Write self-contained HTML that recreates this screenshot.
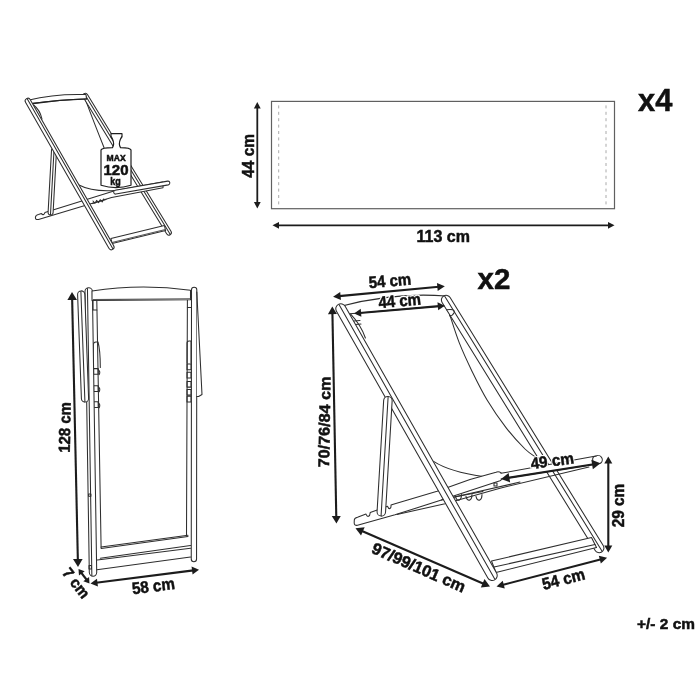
<!DOCTYPE html>
<html><head><meta charset="utf-8">
<style>
html,body{margin:0;padding:0;background:#fff;}
svg{display:block;will-change:transform;}
text{font-family:"Liberation Sans",sans-serif;font-weight:bold;fill:#111;stroke:#111;stroke-width:0.5;}
.l{fill:none;stroke:#2e2e2e;stroke-width:1.05;stroke-linecap:round;stroke-linejoin:round;}
.w{fill:#fff;}
.a{fill:none;stroke:#1c1c1c;stroke-width:2;}
.h{fill:#1c1c1c;stroke:none;}
</style></head><body>
<svg width="700" height="700" viewBox="0 0 700 700">
<rect width="700" height="700" fill="#fff"/>
<g id="small">
<path class="l" d="M33.6 105 Q40 110 42 119" />
<path class="l" d="M85.7 100.4 Q93 120 104 147.5" />
<path class="l" d="M79 185 Q92 192 115 190.5" />
<path class="l w" d="M83.22 97.33 L166.62 233.83 A2.55 2.55 0 0 0 170.98 231.17 L87.58 94.67 A2.55 2.55 0 0 0 83.22 97.33 Z" />
<path class="l" d="M84.49 94.03 L170.14 234.21"/>
<path class="l" d="M28 100.3 Q55 93.5 86 94.6 L86.5 99 Q60 99.5 32 103.6" style="fill:#fff"/>
<path class="l" d="M86.5 98.9 Q60 99.6 33 103.5" style="stroke-width:1.4;stroke:#222"/>
<path class="l" d="M111 133.7 L122 133.7 Q122.8 136.5 120.5 139 Q118.3 144 120.5 147.6 Q130.5 147.8 131 150 L131 185.3 Q116 190 101 185.3 L101 150 Q101.5 147.8 112.5 147.6 Q114.7 144 112.5 139 Q110.2 136.5 111 133.7 Z" style="fill:#fff;stroke:#1e1e1e;stroke-width:1.2"/>
<text transform="translate(116.1 161.4) rotate(0)" font-size="8.3" text-anchor="middle" textLength="19" lengthAdjust="spacingAndGlyphs" >MAX</text>
<text transform="translate(116 175.2) rotate(0)" font-size="14" text-anchor="middle" textLength="25" lengthAdjust="spacingAndGlyphs" >120</text>
<text transform="translate(115.5 184.5) rotate(0)" font-size="10.4" text-anchor="middle" textLength="10.5" lengthAdjust="spacingAndGlyphs" >kg</text>
<path class="l" d="M38.5 214.5 L41.4 213.6 Q42.5 215 43.6 214.5 Q44.7 214 44.9 212.5 L115.5 190.6 L163 182 L163 187.8 L111.6 197.4 L38.5 219.5 Q35.2 220 35.4 217.5 Q35.5 215 38.5 214.5 Z" style="fill:#fff"/>
<path class="l" d="M92.3 203.6 L106 199.4 M93 201 l2 2.4 l1.6 -3 l2 2.3 l1.6 -3 l2 2.2 l1.6 -3" />
<path class="l w" d="M115.83 194.07 L168.33 184.87 A1.9 1.9 0 0 0 167.67 181.13 L115.17 190.33 A1.9 1.9 0 0 0 115.83 194.07 Z" />
<path class="l w" d="M51.5 150.36 L48.1 212.36 A2.5 2.5 0 0 0 53.1 212.64 L56.5 150.64 A2.5 2.5 0 0 0 51.5 150.36 Z" />
<path class="l" d="M54.12 148.38 L50.48 214.62"/>
<path class="l w" d="M112.11 243.53 L165.61 230.53 L164.39 225.47 L110.89 238.47 Z" />
<path class="l" d="M112 242.5 L165.4 229.5" style="stroke:#555"/>
<path class="l w" d="M25.51 102.36 L108.91 248.36 A2.75 2.75 0 0 0 113.69 245.64 L30.29 99.64 A2.75 2.75 0 0 0 25.51 102.36 Z" />
<path class="l" d="M27.19 98.76 L112.87 248.75"/>
</g>
<rect x="271.5" y="101.4" width="343" height="107.3" fill="none" stroke="#606060" stroke-width="1.2"/>
<line x1="278.7" y1="105.4" x2="278.7" y2="207" stroke="#aaa" stroke-width="1" stroke-dasharray="3 3.4"/>
<line x1="606" y1="105.4" x2="606" y2="207" stroke="#aaa" stroke-width="1" stroke-dasharray="3 3.4"/>
<path class="a" style="stroke-width:1.8" d="M257.3 107.2 L257.3 203.3"/>
<path class="h" d="M257.3 208.5 L253.9 202 L260.7 202 Z"/>
<path class="h" d="M257.3 102 L253.9 108.5 L260.7 108.5 Z"/>
<text transform="translate(254.3 177.7) rotate(-90)" font-size="16.59" text-anchor="start" textLength="43.7" lengthAdjust="spacingAndGlyphs" >44 cm</text>
<path class="a" style="stroke-width:1.8" d="M277.7 225.3 L609.3 225.3"/>
<path class="h" d="M614.5 225.3 L608 228.7 L608 221.9 Z"/>
<path class="h" d="M272.5 225.3 L279 228.7 L279 221.9 Z"/>
<text transform="translate(416.6 242.1) rotate(0)" font-size="16.37" text-anchor="start" textLength="53.4" lengthAdjust="spacingAndGlyphs" >113 cm</text>
<text transform="translate(638 110.9) rotate(0)" font-size="31.5" text-anchor="start" textLength="34.3" lengthAdjust="spacingAndGlyphs" >x4</text>
<g id="folded">
<path class="l" d="M96.8 300.6 L101.1 547.7" />
<path class="l" d="M187.4 299.7 L186.5 536" />
<path class="l" d="M93.4 367.4 L93.4 344.6 Q93.4 342 96 342 L98 342 Q100.3 350 100.3 367.4" />
<path class="l" d="M93.6 368.6 h4.6 v5.7 h-4.6 z" />
<path class="l" d="M98.2 369.6 q2.6 2 1 5" />
<path class="l" d="M93.6 385.7 h4.6 v5.7 h-4.6 z" />
<path class="l" d="M98.2 386.7 q2.6 2 1 5" />
<path class="l" d="M93.6 401.7 h4.6 v5.7 h-4.6 z" />
<path class="l" d="M98.2 402.7 q2.6 2 1 5" />
<path class="l" d="M187 363.1 L187 343 Q187 340.9 189 340.9 L191 341 L191 363.1" />
<path class="l" d="M187 364 h4 v5.7 h-4 z" />
<path class="l" d="M187 372.3 h4 v5.7 h-4 z" />
<path class="l" d="M187 381.4 h4 v5.7 h-4 z" />
<path class="l" d="M187 389.4 h4 v5.7 h-4 z" />
<path class="l" d="M187 396.3 h4 v5.7 h-4 z" />
<path class="l w" d="M85 291.56 L89.3 572.56 A3.7 3.7 0 0 0 96.7 572.44 L92.4 291.44 A3.7 3.7 0 0 0 85 291.56 Z" />
<path class="l" d="M87.45 288.54 L91.85 575.49"/>
<path class="l" d="M88.6 494 h2.3 v2.3 h-2.3 z M89 565.4 h2.4 v3.5 h-2.4 z" />
<path class="l w" d="M77.6 294.63 L81.4 398.63 A3.6 3.6 0 0 0 88.6 398.37 L84.8 294.37 A3.6 3.6 0 0 0 77.6 294.63 Z" />
<path class="l" d="M80.89 291.45 L84.91 401.56"/>
<path class="l w" d="M191.5 289.8 L191.25 559 A2.65 2.65 0 0 0 196.55 559 L196.8 289.8 A2.65 2.65 0 0 0 191.5 289.8 Z" />
<path class="l" d="M196.8 292 L202 394.5 L198.6 396.5 L196.8 396.5" style="fill:#fff"/>
<path class="l" d="M92 291 Q141 283.5 190.5 290.3 L190.5 299.7 L92 300.6 Z" style="fill:#fff"/>
<path class="l" d="M93 299.6 L190 298.8" style="stroke:#555"/>
<path class="l" d="M93 300.6 L93 310 L96.8 310 M187.4 307.4 L190.8 307.4" />
<path class="l" d="M101.1 547.1 L188 535.2" />
<path class="l" d="M101.1 548.4 L188 536.6" />
<path class="l" d="M100.3 558.3 L190.5 545.5" />
<path class="l" d="M97.3 560 L190.5 548.3" />
<path class="l" d="M96.9 569.8 L190.5 557" />
</g>
<path class="a" style="stroke-width:2.1" d="M72.14 298.4 L77.86 560.6"/>
<path class="h" d="M78 567 L73.03 559.11 L82.62 558.9 Z"/>
<path class="h" d="M72 292 L67.38 300.1 L76.97 299.89 Z"/>
<text transform="translate(69.8 452.7) rotate(-89)" font-size="16.05" text-anchor="start" textLength="50.5" lengthAdjust="spacingAndGlyphs" >128 cm</text>
<path class="a" style="stroke-width:2.1" d="M81.16 572.51 L86.84 579.99"/>
<path class="h" d="M89.5 583.5 L83.31 581.29 L89.04 576.94 Z"/>
<path class="h" d="M78.5 569 L78.96 575.56 L84.69 571.21 Z"/>
<path class="a" style="stroke-width:2.1" d="M96.06 582.79 L193.44 570.41"/>
<path class="h" d="M199 569.7 L192.56 574.55 L191.55 566.62 Z"/>
<path class="h" d="M90.5 583.5 L97.95 586.58 L96.94 578.65 Z"/>
<text transform="translate(132.7 594.2) rotate(-7)" font-size="16.59" text-anchor="start" textLength="43" lengthAdjust="spacingAndGlyphs" >58 cm</text>
<text transform="translate(61.5 573) rotate(52)" font-size="15.5" text-anchor="start" textLength="34" lengthAdjust="spacingAndGlyphs" >7 cm</text>
<g id="big">
<path class="l" d="M350 313.4 Q361 325 365.4 338" />
<path class="l" d="M354 321 L360 320.5 M355.5 324.5 L361 324" />
<path class="l" d="M449.5 314 C451.13 318.82 455.53 333.33 459.3 342.9 C463.07 352.47 467.47 361.88 472.1 371.4 C476.73 380.92 481.45 390.63 487.1 400 C492.75 409.37 499.68 419.43 506 427.6 C512.32 435.77 519.83 443.93 525 449 C530.17 454.07 535 456.5 537 458" />
<path class="l" d="M433.6 461.4 Q450 472 482.9 476.4" />
<path class="l" d="M342 306 Q395 292 446 296 L449 305.5 L350 313.8" style="fill:#fff"/>
<path class="l w" d="M442.1 302.47 L595.2 550.47 A4.7 4.7 0 0 0 603.2 545.53 L450.1 297.53 A4.7 4.7 0 0 0 442.1 302.47 Z" />
<path class="l" d="M444.71 296.23 L601.95 550.93"/>
<path class="l" d="M446.5 309.8 Q455 308.5 454.3 312.5 Q452.5 316 449.5 315.8" />
<path class="l" d="M357.5 517.2 L366 514.1 Q367 516.8 368.5 516.3 Q370 515.8 370.2 512.6 L387.5 506.3 Q388.5 509 390 508.6 Q391.3 508 391 505 L395 503.7 L437.1 491.2 L470 479.6 L496 472.3 A4.2 4.2 0 0 1 500 480.7 L441.4 500.1 L395 514.8 L357.5 525.3 Q354 525.8 354.2 522.5 L354.3 520 Q354.3 518 357.5 517.2 Z" style="fill:#fff"/>
<path class="l" d="M397 514.5 L445 503.7 L500 488.2 L589 467" />
<path class="l" d="M441.4 500.1 L520 482.1" />
<path class="l" d="M454.3 497.1 L482.9 491.4" />
<path class="l" d="M455.5 496.3 q1 4.8 4 3.6 q2 -1.2 2 -5.4" />
<path class="l" d="M466 496.3 q1 4.8 4 3.6 q2 -1.2 2 -5.4" />
<path class="l" d="M476 496.3 q1 4.8 4 3.6 q2 -1.2 2 -5.4" />
<path class="l" d="M494 483 h3 v3 h-3 z" />
<path class="l" d="M501 473.3 L596 456 A3.8 3.8 0 0 1 600 463.5 L501 479" style="fill:#fff"/>
<path class="l" d="M596 456 A3.6 3.6 0 0 0 596.5 463.2" />
<path class="l" d="M491.5 561 L591.5 537.6 L596.5 547.6 L496 572.5 Z" style="fill:#fff"/>
<path class="l" d="M494 567 L595 544.6" />
<path class="l w" d="M336.45 311.17 L487.85 577.97 A5 5 0 0 0 496.55 573.03 L345.15 306.23 A5 5 0 0 0 336.45 311.17 Z" />
<path class="l" d="M339.15 304.78 L494.72 578.93"/>
<path class="l w" d="M383.66 400.35 L377.06 511.75 A4.25 4.25 0 0 0 385.54 512.25 L392.14 400.85 A4.25 4.25 0 0 0 383.66 400.35 Z" />
<path class="l" d="M388.11 396.99 L381.09 515.61"/>
</g>
<path class="a" style="stroke-width:2.1" d="M339.07 296.14 L438.83 286.76"/>
<path class="h" d="M444.8 286.2 L437.71 290.88 L436.96 282.92 Z"/>
<path class="h" d="M333.1 296.7 L340.94 299.98 L340.19 292.02 Z"/>
<text transform="translate(369.2 288.3) rotate(-5)" font-size="16.59" text-anchor="start" textLength="42.5" lengthAdjust="spacingAndGlyphs" >54 cm</text>
<path class="a" style="stroke-width:2.1" d="M359.68 312.93 L439.22 306.17"/>
<path class="h" d="M444.8 305.7 L438.16 310.28 L437.49 302.31 Z"/>
<path class="h" d="M354.1 313.4 L361.41 316.79 L360.74 308.82 Z"/>
<text transform="translate(379 308.3) rotate(-5)" font-size="16.58" text-anchor="start" textLength="42.5" lengthAdjust="spacingAndGlyphs" style="stroke:#fff;stroke-width:3;fill:#fff">44 cm</text>
<text transform="translate(379 308.3) rotate(-5)" font-size="16.59" text-anchor="start" textLength="42.5" lengthAdjust="spacingAndGlyphs" >44 cm</text>
<path class="a" style="stroke-width:2.1" d="M332.41 312.68 L336.29 517.52"/>
<path class="h" d="M336.4 523.6 L331.76 516.09 L340.76 515.92 Z"/>
<path class="h" d="M332.3 306.6 L327.94 314.28 L336.94 314.11 Z"/>
<text transform="translate(329 467.5) rotate(-89)" font-size="15.52" text-anchor="start" textLength="91" lengthAdjust="spacingAndGlyphs" >70/76/84 cm</text>
<path class="a" style="stroke-width:2.2" d="M361.37 530.75 L484.13 583.95"/>
<path class="h" d="M490 586.5 L480.83 587.54 L484.49 579.1 Z"/>
<path class="h" d="M355.5 528.2 L361.01 535.6 L364.67 527.16 Z"/>
<text transform="translate(370.5 552.5) rotate(23.6)" font-size="16.37" text-anchor="start" textLength="100.5" lengthAdjust="spacingAndGlyphs" >97/99/101 cm</text>
<text transform="translate(531.4 469.3) rotate(-8)" font-size="16" text-anchor="start" textLength="43.5" lengthAdjust="spacingAndGlyphs" style="stroke:#fff;stroke-width:2.5;fill:#fff">49 cm</text>
<path class="a" style="stroke-width:2.1" d="M507.72 477.93 L593.78 464.27"/>
<path class="h" d="M600.5 463.2 L592.86 469.27 L591.35 459.79 Z"/>
<path class="h" d="M501 479 L510.15 482.41 L508.64 472.93 Z"/>
<text transform="translate(531.4 469.3) rotate(-8)" font-size="16" text-anchor="start" textLength="43.5" lengthAdjust="spacingAndGlyphs" >49 cm</text>
<path class="a" style="stroke-width:2.1" d="M608.3 462.2 L608.3 547"/>
<path class="h" d="M608.3 552.6 L604.3 545.6 L612.3 545.6 Z"/>
<path class="h" d="M608.3 456.6 L604.3 463.6 L612.3 463.6 Z"/>
<text transform="translate(623.5 527.2) rotate(-90)" font-size="16.05" text-anchor="start" textLength="43.4" lengthAdjust="spacingAndGlyphs" >29 cm</text>
<path class="a" style="stroke-width:2.1" d="M502.31 584.99 L601.29 559.21"/>
<path class="h" d="M607.1 557.7 L600.85 563.46 L598.83 555.72 Z"/>
<path class="h" d="M496.5 586.5 L504.77 588.48 L502.75 580.74 Z"/>
<text transform="translate(543.8 590) rotate(-14.5)" font-size="16.59" text-anchor="start" textLength="43.5" lengthAdjust="spacingAndGlyphs" >54 cm</text>
<text transform="translate(477.6 289.1) rotate(0)" font-size="30" text-anchor="start" textLength="32.8" lengthAdjust="spacingAndGlyphs" >x2</text>
<text transform="translate(637.1 629.1) rotate(0)" font-size="14.98" text-anchor="start" textLength="57.8" lengthAdjust="spacingAndGlyphs" >+/- 2 cm</text>
</svg>
</body></html>
